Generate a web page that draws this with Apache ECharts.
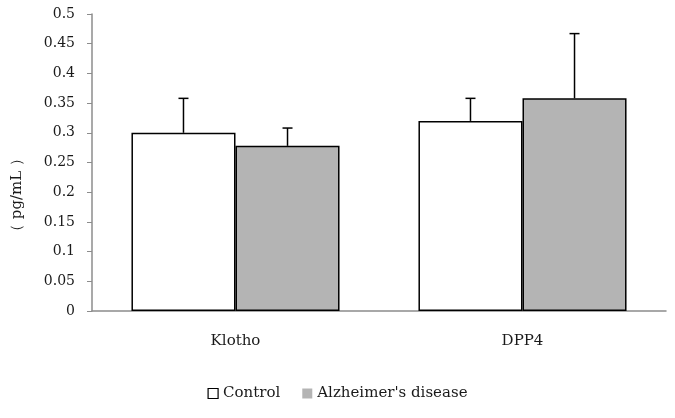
<!DOCTYPE html>
<html>
<head>
<meta charset="utf-8">
<script src="https://cdn.jsdelivr.net/npm/echarts@6/dist/echarts.min.js"></script>
<style>
  html, body { margin: 0; padding: 0; background: #fff; }
  #chart { width: 675px; height: 418px; }
</style>
</head>
<body>
<div id="chart"></div>
<script>
var categories = ['Klotho', 'DPP4']
var seriesNames = ['Control', "Alzheimer's disease"]
var controlValues = [0.30, 0.32]
var controlErrors = [0.058, 0.038]
var adValues = [0.278, 0.358]
var adErrors = [0.03, 0.109]

var font = 'DejaVu Serif'
var barShare = 0.725 // both bars together, part of a category

// one error bar (upper only) per bar, placed at the bar's centre
function errorSeries(values, errors, side) {
  return {
    type: 'custom',
    z: 5,
    silent: true,
    data: values.map(function (v, i) { return [i, v, v + errors[i]] }),
    renderItem: function (params, api) {
      var base = api.coord([api.value(0), api.value(1)])
      var top = api.coord([api.value(0), api.value(2)])
      var bw = api.size([1, 0])[0] * barShare / 2
      var x = base[0] + side * bw / 2
      var cap = 5
      var st = { stroke: '#000', lineWidth: 1.5 }
      return {
        type: 'group',
        children: [
          { type: 'line', shape: { x1: x, y1: base[1], x2: x, y2: top[1] }, style: st },
          { type: 'line', shape: { x1: x - cap, y1: top[1], x2: x + cap, y2: top[1] }, style: st },
        ],
      }
    },
  }
}

var myChart = echarts.init(document.getElementById('chart'))
myChart.setOption({
  animation: false,
  grid: { left: 92, right: 9, top: 14, bottom: 107 },
  legend: {
    top: 381,
    left: 'center',
    icon: 'rect',
    itemWidth: 10,
    itemHeight: 10,
    itemGap: 22,
    textStyle: { fontFamily: font, fontSize: 15, color: '#1a1a1a' },
    data: [
      { name: seriesNames[0], itemStyle: { color: '#fff', borderColor: '#000', borderWidth: 1.2 } },
      { name: seriesNames[1], itemStyle: { color: '#b4b4b4', borderWidth: 0 } },
    ],
  },
  graphic: [
    {
      type: 'text',
      x: 17,
      y: 195,
      rotation: Math.PI / 2,
      style: {
        text: '（ pg/mL ）',
        fontFamily: font,
        fontSize: 15,
        fill: '#1a1a1a',
        align: 'center',
        verticalAlign: 'middle',
      },
    },
  ],
  xAxis: {
    type: 'category',
    data: categories,
    axisLine: { lineStyle: { color: '#8c8c8c', width: 1.5 } },
    axisTick: { length: 5, lineStyle: { color: '#8c8c8c' } },
    axisLabel: { fontFamily: font, fontSize: 15, color: '#1a1a1a', margin: 23 },
  },
  yAxis: {
    type: 'value',
    min: 0,
    max: 0.5,
    interval: 0.05,
    splitLine: { show: false },
    axisLine: { show: true, lineStyle: { color: '#8c8c8c', width: 1.5 } },
    axisTick: { show: true, length: 5, lineStyle: { color: '#8c8c8c' } },
    axisLabel: { fontFamily: font, fontSize: 14, color: '#1a1a1a', margin: 17 },
  },
  series: [
    {
      name: seriesNames[0],
      type: 'bar',
      data: controlValues,
      barGap: '0%',
      barCategoryGap: '27.5%',
      itemStyle: { color: '#fff', borderColor: '#000', borderWidth: 1.5 },
    },
    {
      name: seriesNames[1],
      type: 'bar',
      data: adValues,
      itemStyle: { color: '#b4b4b4', borderColor: '#000', borderWidth: 1.5 },
    },
    errorSeries(controlValues, controlErrors, -1),
    errorSeries(adValues, adErrors, 1),
  ],
})
</script>
</body>
</html>
